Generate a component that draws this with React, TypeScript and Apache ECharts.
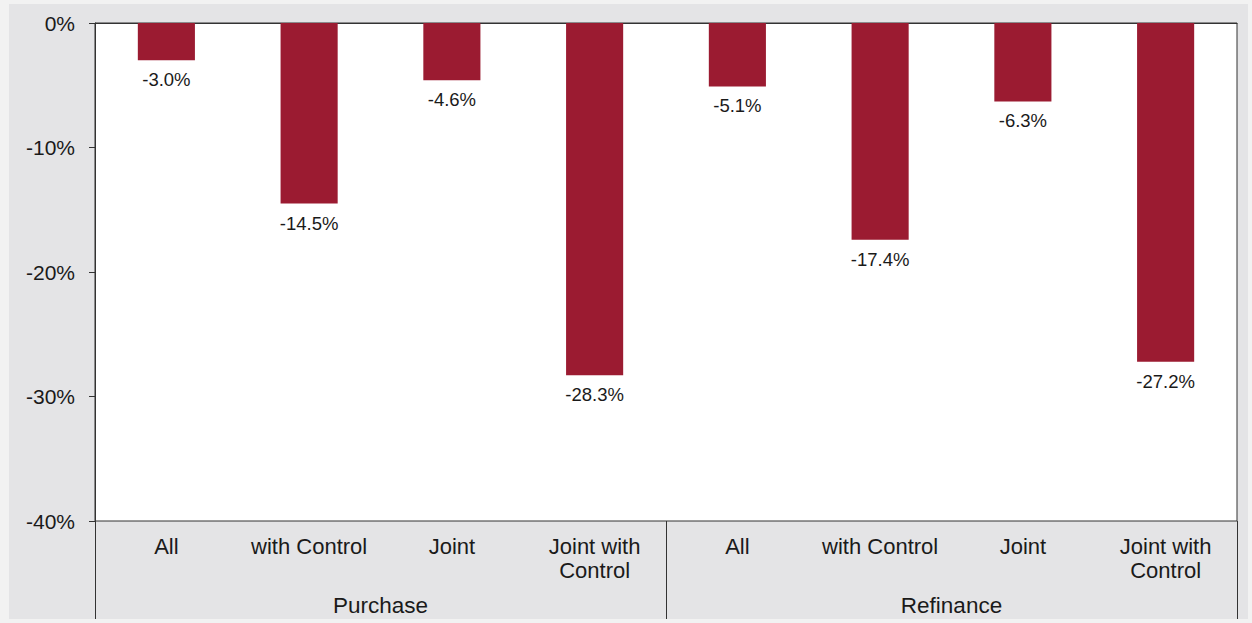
import React, { useEffect, useRef } from "react";
import * as echarts from "echarts";

const categories = ["All", "with Control", "Joint", "Joint with\nControl", "All", "with Control", "Joint", "Joint with\nControl"];
const groups = ["Purchase", "Refinance"];
const values = [-3.0, -14.5, -4.6, -28.3, -5.1, -17.4, -6.3, -27.2];
const yTicks = { min: -40, max: 0, interval: 10 };

export default function App() {
  const ref = useRef<HTMLDivElement>(null);
  useEffect(() => {
    if (!ref.current) return;
    const chart = echarts.init(ref.current, undefined, { renderer: "svg" });
    const font = "'Liberation Sans', Arial, sans-serif";
    const txt = "#1a1a1a";
    chart.setOption({
      animation: false,
      backgroundColor: "#e4e4e6",
      textStyle: { fontFamily: font },
      grid: {
        left: 86,
        right: 11,
        top: 19,
        bottom: 98,
        show: true,
        backgroundColor: "#ffffff",
        borderColor: "#333333",
        borderWidth: 1,
      },
      xAxis: [
        {
          type: "category",
          data: categories,
          position: "bottom",
          axisLine: { show: true, lineStyle: { color: "#333333", width: 1 } },
          axisTick: { show: false },
          axisLabel: {
            interval: 0,
            fontSize: 22,
            lineHeight: 24,
            margin: 13,
            color: txt,
            fontFamily: font,
          },
          splitLine: { show: false },
        },
        {
          type: "category",
          data: groups,
          position: "bottom",
          axisLine: { show: false },
          axisTick: { show: true, length: 98, interval: 0, lineStyle: { color: "#333333", width: 1 } },
          axisLabel: { interval: 0, fontSize: 22.5, margin: 73, color: txt, fontFamily: font },
          splitLine: { show: false },
        },
      ],
      yAxis: {
        type: "value",
        min: yTicks.min,
        max: yTicks.max,
        interval: yTicks.interval,
        axisLine: { show: true, lineStyle: { color: "#333333", width: 1 } },
        axisTick: { show: true, length: 6, inside: false, lineStyle: { color: "#333333" } },
        axisLabel: {
          fontSize: 21,
          margin: 20,
          color: txt,
          fontFamily: font,
          formatter: (v: number) => `${v}%`,
        },
        splitLine: { show: false },
      },
      series: [
        {
          type: "bar",
          xAxisIndex: 0,
          data: values,
          barWidth: "40%",
          itemStyle: { color: "#9b1b31" },
          label: {
            show: true,
            position: "bottom",
            distance: 10,
            fontSize: 18.5,
            color: txt,
            fontFamily: font,
            formatter: (p: any) => `${Number(p.value).toFixed(1)}%`,
          },
        },
      ],
    });
    return () => chart.dispose();
  }, []);
  return (
    <div style={{ position: "fixed", left: 0, top: 0, width: 1252, height: 623, background: "#f2f2f2" }}>
      <div ref={ref} style={{ position: "absolute", left: 9, top: 4, width: 1239, height: 615 }} />
    </div>
  );
}
